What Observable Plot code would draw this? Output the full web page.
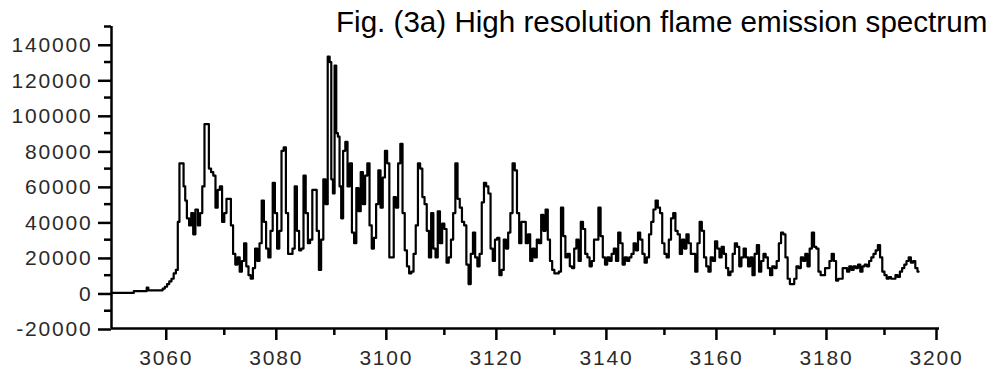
<!DOCTYPE html>
<html>
<head>
<meta charset="utf-8">
<script src="https://cdn.jsdelivr.net/npm/d3@7"></script>
<script src="https://cdn.jsdelivr.net/npm/@observablehq/plot@0.6"></script>
<style>
  html, body { margin: 0; padding: 0; background: #fff; }
  #wrap { position: relative; width: 993px; height: 371px; overflow: hidden; }
  #title { position: absolute; left: 336px; top: 7px; font: 29.6px/30px "Liberation Sans", Arial, sans-serif; color: #000; white-space: nowrap; }
  svg { font-family: "Liberation Sans", Arial, sans-serif; }
</style>
</head>
<body>
<div id="wrap"><div id="title"></div></div>
<script>
const titleText = "Fig. (3a) High resolution flame emission spectrum";

const wavelength = [
3049.5,3053.5,3053.6,3055.8,3056.0,3056.4,3058.6,3059.0,3059.4,3059.8,3060.2,3060.6,3061.0,3061.4,3061.7,3062.0,3062.4,3062.8,3063.0,3063.4,
3063.8,3064.2,3064.5,3065.0,3065.4,3065.8,3066.2,3066.6,3067.0,3067.4,3067.8,3068.2,3068.6,3069.0,3069.4,3069.8,3070.2,3070.6,3071.0,3071.4,
3071.8,3072.2,3072.6,3073.0,3073.4,3073.8,3074.2,3074.6,3075.0,3075.4,3075.8,3076.2,3076.6,3077.0,3077.4,3077.8,3078.2,3078.6,3079.0,3079.4,
3079.8,3080.2,3080.6,3081.0,3081.4,3081.8,3082.2,3082.6,3083.0,3083.4,3083.8,3084.2,3084.6,3085.0,3085.4,3085.8,3086.2,3086.6,3087.0,3087.4,
3087.8,3088.2,3088.6,3089.0,3089.3,3089.6,3089.9,3090.2,3090.5,3090.8,3091.1,3091.4,3091.8,3092.2,3092.6,3093.0,3093.4,3093.8,3094.2,3094.6,
3095.0,3095.4,3095.8,3096.2,3096.6,3097.0,3097.4,3097.8,3098.2,3098.6,3099.0,3099.4,3099.8,3100.2,3100.6,3101.0,3101.4,3101.8,3102.2,3102.6,
3103.0,3103.4,3103.8,3104.2,3104.6,3105.0,3105.4,3105.8,3106.2,3106.6,3107.0,3107.4,3107.8,3108.2,3108.6,3109.0,3109.4,3109.8,3110.2,3110.6,
3111.0,3111.4,3111.8,3112.2,3112.6,3113.0,3113.4,3113.8,3114.2,3114.6,3115.0,3115.4,3115.8,3116.2,3116.6,3117.0,3117.4,3117.8,3118.2,3118.6,
3119.0,3119.4,3119.8,3120.2,3120.6,3121.0,3121.4,3121.8,3122.2,3122.6,3123.0,3123.4,3123.8,3124.2,3124.6,3125.0,3125.4,3125.8,3126.2,3126.6,
3127.0,3127.4,3127.8,3128.2,3128.6,3129.0,3129.4,3129.8,3130.2,3130.6,3131.0,3131.4,3131.8,3132.2,3132.6,3133.0,3133.4,3133.8,3134.2,3134.6,
3135.0,3135.4,3135.8,3136.2,3136.6,3137.0,3137.4,3137.8,3138.2,3138.6,3139.0,3139.4,3139.8,3140.2,3140.6,3141.0,3141.4,3141.8,3142.2,3142.6,
3143.0,3143.4,3143.8,3144.2,3144.6,3145.0,3145.4,3145.8,3146.2,3146.6,3147.0,3147.4,3147.8,3148.2,3148.6,3149.0,3149.4,3149.8,3150.2,3150.6,
3151.0,3151.4,3151.8,3152.2,3152.6,3153.0,3153.4,3153.8,3154.2,3154.6,3155.0,3155.4,3155.8,3156.2,3156.6,3157.0,3157.4,3157.8,3158.2,3158.6,
3159.0,3159.4,3159.8,3160.2,3160.6,3161.0,3161.4,3161.8,3162.2,3162.6,3163.0,3163.4,3163.8,3164.2,3164.6,3165.0,3165.4,3165.8,3166.2,3166.6,
3167.0,3167.4,3167.8,3168.2,3168.6,3169.0,3169.4,3169.8,3170.2,3170.6,3171.0,3171.4,3171.8,3172.2,3172.6,3173.0,3173.4,3173.8,3174.2,3174.6,
3175.0,3175.4,3175.8,3176.2,3176.6,3177.0,3177.4,3177.8,3178.2,3178.6,3179.0,3179.4,3179.8,3180.2,3180.6,3181.0,3181.4,3181.8,3182.2,3182.6,
3183.0,3183.4,3183.8,3184.2,3184.6,3185.0,3185.4,3185.8,3186.2,3186.6,3187.0,3187.4,3187.8,3188.2,3188.6,3189.0,3189.4,3189.8,3190.2,3190.6,
3191.0,3191.4,3191.8,3192.2,3192.6,3193.0,3193.4,3193.8,3194.2,3194.6,3195.0,3195.4,3195.8,3196.2
];

const intensity = [
0,0,1000,1000,3000,1500,1500,2500,3500,5000,6500,8000,11000,13000,40000,73000,73000,60000,52000,42000,
38000,45000,33000,47000,38000,45000,60000,95000,95000,70000,68000,66000,48000,58000,60000,40000,45000,53000,53000,38000,
22000,16000,20000,12000,18000,28000,15000,10000,8000,14000,25000,18000,28000,52000,40000,25000,20000,35000,62000,45000,
25000,35000,80000,82000,45000,22000,22000,25000,60000,35000,24000,25000,66000,45000,28000,30000,58000,58000,35000,13000,
30000,64000,50000,133000,130000,64000,56000,128000,90000,88000,60000,42000,80000,85000,60000,73000,34000,28000,59000,46000,
68000,50000,66000,73000,38000,25000,31000,50000,69000,48000,65000,80000,73000,20000,20000,54000,48000,73000,84000,45000,
24000,15000,11000,12000,22000,38000,73000,70000,54000,50000,35000,20000,45000,25000,20000,46000,28000,39000,36000,17000,
20000,30000,45000,73000,53000,48000,40000,38000,16000,5000,22000,34000,20000,15000,22000,51000,62000,60000,56000,25000,
18000,30000,31000,10000,13000,30000,25000,34000,45000,73000,69000,45000,28000,40000,40000,28000,33000,18000,25000,20000,
30000,28000,44000,35000,47000,30000,18000,13000,11000,11000,12000,48000,32000,20000,22000,15000,14000,25000,30000,18000,
40000,36000,22000,20000,15000,18000,30000,30000,48000,32000,20000,16000,20000,18000,22000,25000,18000,34000,28000,16000,
20000,18000,20000,22000,28000,24000,34000,30000,22000,17000,20000,33000,40000,47000,52000,48000,45000,28000,22000,20000,
30000,42000,45000,35000,33000,22000,30000,25000,33000,28000,22000,22000,12000,28000,40000,35000,20000,15000,12000,20000,
18000,29000,25000,20000,26000,22000,14000,10000,12000,22000,28000,26000,15000,20000,25000,20000,15000,20000,10000,22000,
27000,12000,18000,22000,20000,14000,10000,15000,14000,18000,28000,34000,33000,20000,8000,5000,5000,8000,15000,14000,
20000,18000,22000,15000,25000,34000,26000,25000,12000,10000,10000,14000,14000,18000,22000,18000,7000,8000,8000,14000,
14000,12000,15000,13000,15000,14000,16000,12000,15000,16000,15000,18000,20000,22000,24000,27000,20000,12000,10000,8000,
9000,8000,8000,10000,9000,12000,14000,16000,18000,20000,17000,18000,14000,12000
];

const yMajor = [-20000, 0, 20000, 40000, 60000, 80000, 100000, 120000, 140000];
const yMinor = [-10000, 10000, 30000, 50000, 70000, 90000, 110000, 130000, 150000];
const xMajor = [3060, 3080, 3100, 3120, 3140, 3160, 3180, 3200];
const xMinor = [3070, 3090, 3110, 3130, 3150, 3170, 3190];
const xDomain = [3049.5, 3200];
const yDomain = [-20000, 150000];

document.getElementById("title").textContent = titleText;

const data = wavelength.map((w, i) => ({w, v: intensity[i]}));

const chart = Plot.plot({
  width: 993,
  height: 371,
  marginLeft: 111,
  marginRight: 54,
  marginTop: 26,
  marginBottom: 43,
  style: {fontFamily: "'Liberation Sans', Arial, sans-serif", fontSize: "21px", letterSpacing: "1.8px", background: "#fff", overflow: "visible"},
  x: {domain: xDomain, label: null},
  y: {domain: yDomain, label: null},
  marks: [
    Plot.axisY({ticks: yMinor, tickSize: 7, tickFormat: () => "", label: null, stroke: "#000", strokeWidth: 2.5}),
    Plot.axisY({ticks: yMajor, tickSize: 13, tickPadding: 6, dy: 1, label: null, tickFormat: d => String(d), stroke: "#000", fill: "#2a2a2a", strokeWidth: 2.5}),
    Plot.axisX({ticks: xMinor, tickSize: 7, tickFormat: () => "", label: null, stroke: "#000", strokeWidth: 2.5}),
    Plot.axisX({ticks: xMajor, tickSize: 12, tickPadding: 10, dx: -3, label: null, tickFormat: d => String(d), stroke: "#000", fill: "#2a2a2a", strokeWidth: 2.5}),
    Plot.ruleX([xDomain[0]], {stroke: "#000", strokeWidth: 2.5}),
    Plot.ruleY([yDomain[0]], {stroke: "#000", strokeWidth: 2.5}),
    Plot.line(data, {x: "w", y: "v", curve: "step", stroke: "#000", strokeWidth: 2.2})
  ]
});
chart.style.position = "absolute";
chart.style.left = "0";
chart.style.top = "0";
document.getElementById("wrap").insertBefore(chart, document.getElementById("title"));
</script>
</body>
</html>
